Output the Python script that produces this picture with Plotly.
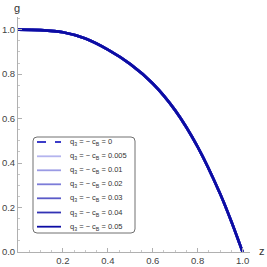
import plotly.graph_objects as go

# data
z_vals = [0.0, 0.1, 0.2, 0.3, 0.4, 0.5, 0.6, 0.7, 0.8, 0.9, 0.95, 1.0]
g_vals = [1.0, 0.998, 0.988, 0.960, 0.910, 0.845, 0.758, 0.637, 0.473, 0.262, 0.137, 0.0]
q_labels = ["0", "0.005", "0.01", "0.02", "0.03", "0.04", "0.05"]
series_g = [g_vals for _ in q_labels]
colors = ["#3c3cc8", "#b4b4ee", "#9a9ae4", "#7c7cd8", "#5a5ac8", "#3232b4", "#0c0ca4"]
dashes = ["dash", "solid", "solid", "solid", "solid", "solid", "solid"]
x_ticks = [0.2, 0.4, 0.6, 0.8, 1.0]
y_ticks = [0.0, 0.2, 0.4, 0.6, 0.8, 1.0]

W, H = 267, 267
ML, MR, MT, MB = 18, 17, 17, 15
PW, PH = W - ML - MR, H - MT - MB
XMAX, YMAX = 1.033, 1.057

def px(x):
    return (x - ML) / PW

def py(y):
    return (H - MB - y) / PH

fig = go.Figure()
for lab, gs, c, d in zip(q_labels, series_g, colors, dashes):
    fig.add_trace(go.Scatter(x=z_vals, y=gs, mode="lines",
                             line=dict(color=c, width=2.6, dash=d, shape="spline", smoothing=0.8),
                             name=lab, showlegend=False))

axis_common = dict(showgrid=False, zeroline=False, showline=True, linecolor="#b0b0b0", linewidth=1,
                   automargin=False,
                   ticks="inside", ticklen=4, tickcolor="#b0b0b0", tickwidth=1,
                   tickfont=dict(family="Liberation Sans, Arial", size=9.5, color="#444444"),
                   minor=dict(ticks="inside", ticklen=2, tickcolor="#c8c8c8", dtick=0.05, showgrid=False))
fig.update_xaxes(range=[0, XMAX], tickvals=x_ticks, ticktext=[f"{v:.1f}" for v in x_ticks], **axis_common)
fig.update_yaxes(range=[0, YMAX], tickvals=y_ticks, ticktext=[f"{v:.1f}" for v in y_ticks], **axis_common)

# legend box (manual)
x0, x1, y0, y1, r = 33, 135, 137, 233, 4
path = (f"M {px(x0+r)},{py(y0)} L {px(x1-r)},{py(y0)} Q {px(x1)},{py(y0)} {px(x1)},{py(y0+r)} "
        f"L {px(x1)},{py(y1-r)} Q {px(x1)},{py(y1)} {px(x1-r)},{py(y1)} "
        f"L {px(x0+r)},{py(y1)} Q {px(x0)},{py(y1)} {px(x0)},{py(y1-r)} "
        f"L {px(x0)},{py(y0+r)} Q {px(x0)},{py(y0)} {px(x0+r)},{py(y0)} Z")
shapes = [dict(type="path", xref="paper", yref="paper", path=path, line=dict(color="#707070", width=1),
               fillcolor="white", layer="above")]
annotations = []
ys = [142, 156.3, 170.3, 184.3, 198.3, 212.5, 226.7]
for lab, c, d, yy in zip(q_labels, colors, dashes, ys):
    shapes.append(dict(type="line", xref="paper", yref="paper", x0=px(37), x1=px(61), y0=py(yy), y1=py(yy),
                       line=dict(color=c, width=1.8, dash="dash" if d == "dash" else "solid"), layer="above"))
    annotations.append(dict(xref="paper", yref="paper", x=px(68), y=py(yy), xanchor="left", yanchor="middle",
                            showarrow=False, text=f"q<sub>3</sub> = − c<sub>B</sub> = {lab}",
                            font=dict(family="Liberation Sans, Arial", size=7.5, color="#333333")))

annotations.append(dict(xref="paper", yref="paper", x=px(262), y=py(251), xanchor="center", yanchor="middle",
                        showarrow=False, text="z", borderpad=0,
                        font=dict(family="Liberation Sans, Arial", size=11, color="#333333")))
annotations.append(dict(xref="paper", yref="paper", x=px(17), y=py(8), xanchor="center", yanchor="middle",
                        showarrow=False, text="g", borderpad=0,
                        font=dict(family="Liberation Sans, Arial", size=11, color="#333333")))

fig.update_layout(width=W, height=H, margin=dict(l=ML, r=MR, t=MT, b=MB, pad=0, autoexpand=False),
                  paper_bgcolor="white", plot_bgcolor="white", showlegend=False,
                  shapes=shapes, annotations=annotations)
fig.write_html("out.html", config={"displayModeBar": False},
               post_script="document.body.style.margin='0';document.body.style.overflow='hidden';")
